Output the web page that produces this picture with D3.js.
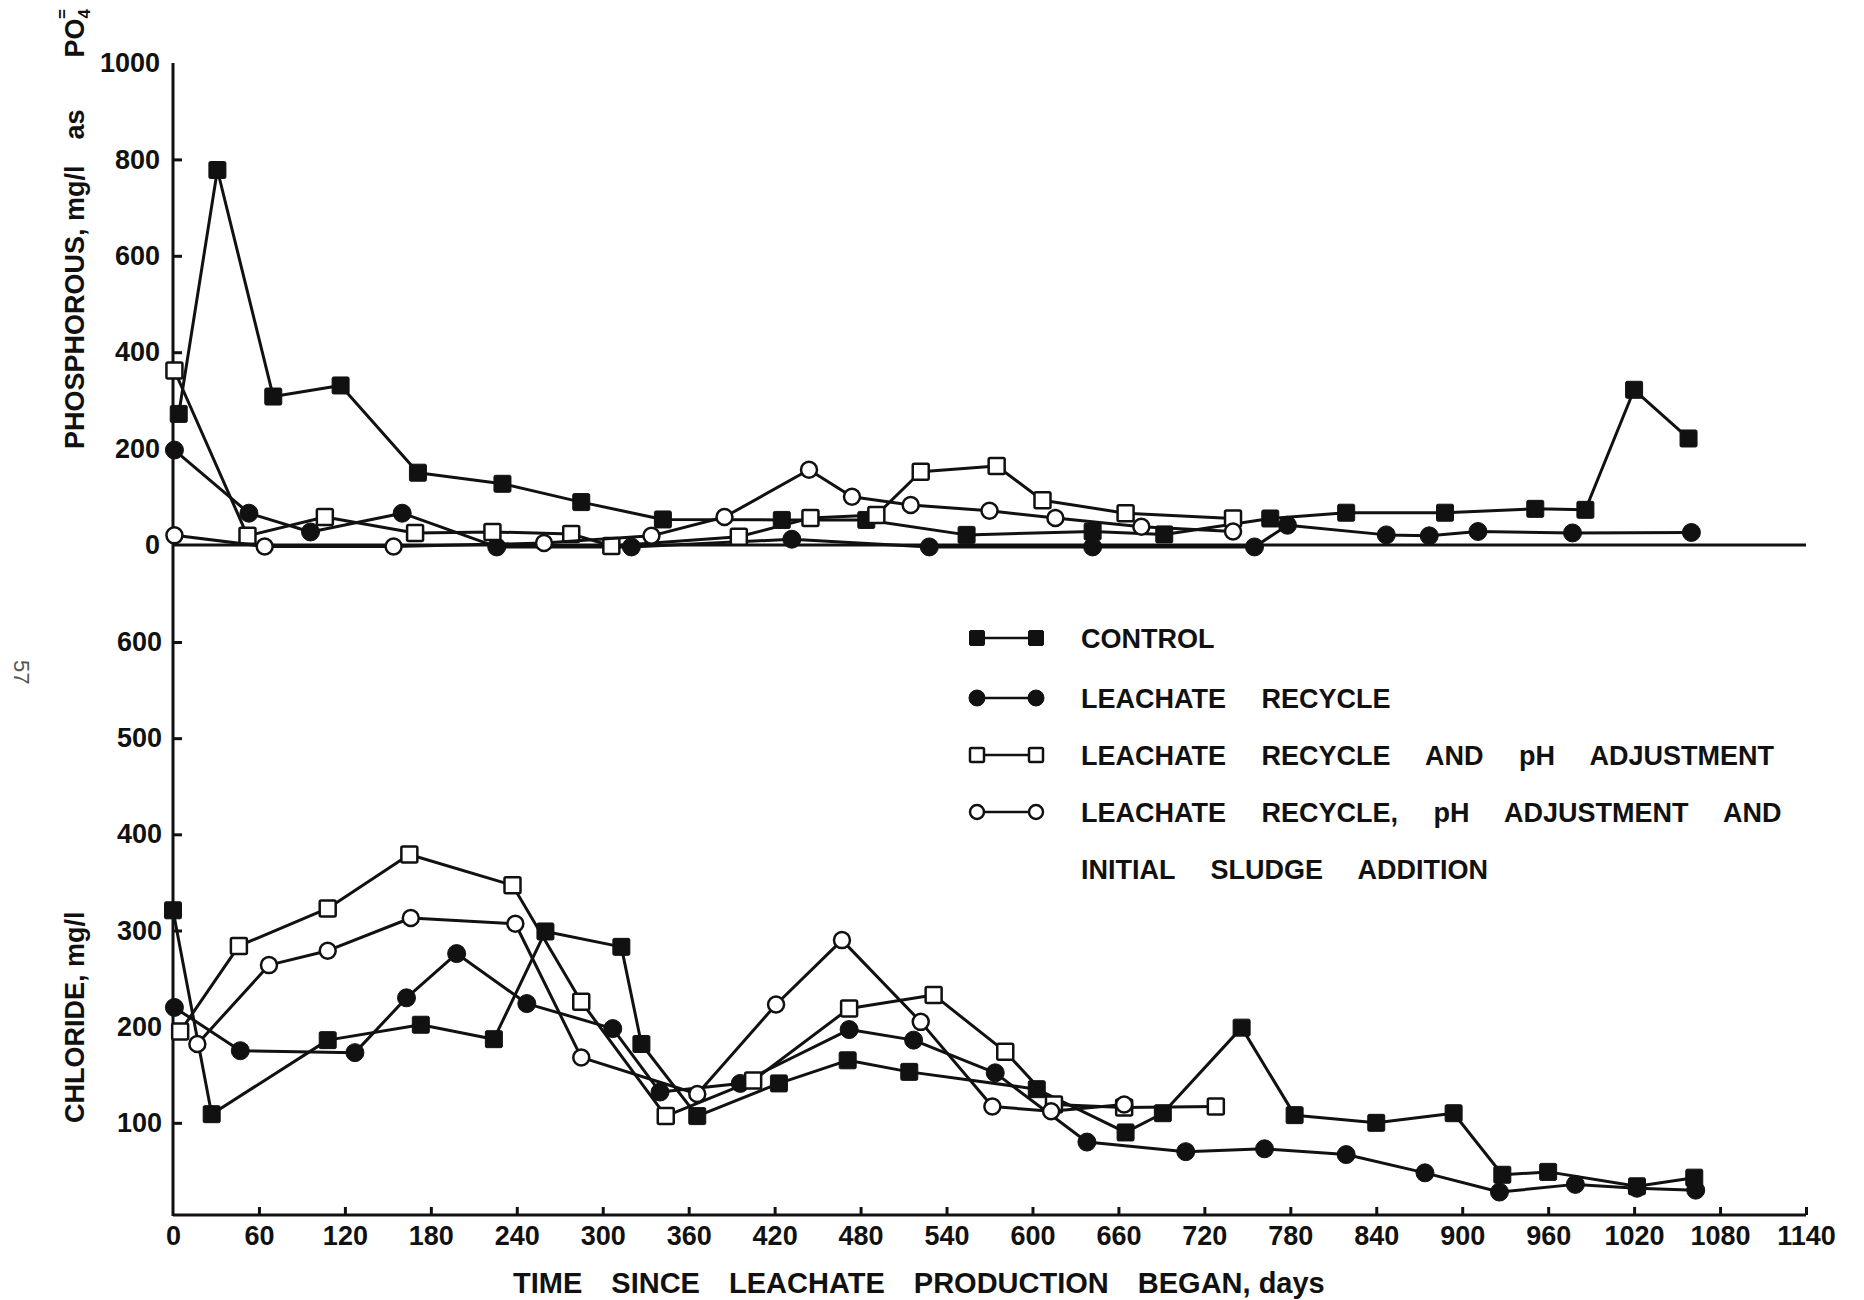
<!DOCTYPE html>
<html>
<head>
<meta charset="utf-8">
<script src="https://cdnjs.cloudflare.com/ajax/libs/d3/7.8.5/d3.min.js"></script>
<style>
  body { margin: 0; background: #fff; }
  text { font-family: "Liberation Sans", Arial, sans-serif; font-weight: bold; fill: #111; }
</style>
</head>
<body>
<div id="chart"></div>
<script>
// ---- phosphorous (top panel), days / mg/l as PO4
var controlPDays = [4, 31, 70, 117, 171, 230, 285, 342, 425, 484, 554, 642, 692, 766, 819, 888, 951, 986, 1020, 1058];
var controlPVals = [272, 778, 308, 331, 150, 127, 89, 53, 52, 52, 21, 28, 22, 55, 67, 67, 75, 73, 322, 221];
var recyclePDays = [1, 53, 96, 160, 226, 320, 432, 528, 642, 755, 778, 847, 877, 911, 977, 1060];
var recyclePVals = [197, 66, 27, 66, -4, -4, 12, -4, -4, -4, 41, 21, 19, 28, 25, 26];
var phAdjPDays = [1, 52, 106, 169, 223, 278, 306, 395, 445, 491, 522, 575, 607, 665, 740];
var phAdjPVals = [362, 19, 58, 25, 27, 23, -2, 17, 56, 62, 152, 164, 93, 66, 55];
var sludgePDays = [1, 64, 154, 259, 334, 385, 444, 474, 515, 570, 616, 676, 740];
var sludgePVals = [20, -3, -3, 4, 19, 58, 156, 100, 83, 71, 56, 38, 28];

// ---- chloride (bottom panel), days / mg/l
var controlCDays = [0, 27, 108, 173, 224, 260, 313, 327, 366, 423, 471, 514, 603, 665, 691, 746, 783, 840, 894, 928, 960, 1022, 1062];
var controlCVals = [321, 109, 186, 202, 187, 299, 283, 182, 107, 141, 165, 153, 135, 90, 110, 199, 108, 100, 110, 46, 49, 34, 43];
var recycleCDays = [1, 47, 127, 163, 198, 247, 307, 340, 396, 472, 517, 574, 638, 707, 762, 819, 874, 926, 979, 1022, 1063];
var recycleCVals = [220, 175, 173, 230, 276, 224, 198, 132, 141, 197, 186, 152, 80, 70, 73, 67, 48, 28, 36, 32, 30];
var phAdjCDays = [5, 46, 108, 165, 237, 285, 344, 405, 472, 531, 581, 615, 664, 728];
var phAdjCVals = [195, 284, 323, 379, 347, 226, 107, 144, 219, 233, 174, 119, 116, 117];
var sludgeCDays = [17, 67, 108, 166, 239, 285, 366, 421, 467, 522, 572, 613, 664];
var sludgeCVals = [182, 264, 279, 313, 307, 168, 130, 223, 290, 205, 117, 112, 119];

var xTicks = [0, 60, 120, 180, 240, 300, 360, 420, 480, 540, 600, 660, 720, 780, 840, 900, 960, 1020, 1080, 1140];
var phosTicks = [0, 200, 400, 600, 800, 1000];
var chlorTicks = [100, 200, 300, 400, 500, 600];

var legendLabels = ['CONTROL', 'LEACHATE RECYCLE', 'LEACHATE RECYCLE AND pH ADJUSTMENT', 'LEACHATE RECYCLE, pH ADJUSTMENT AND', 'INITIAL SLUDGE ADDITION'];
var shapes = ['fsq', 'fci', 'osq', 'oci'];

var ink = '#111';

var svg = d3.select('#chart').append('svg')
  .attr('width', 1864)
  .attr('height', 1300);

svg.append('rect').attr('width', 1864).attr('height', 1300).attr('fill', '#fff');

var x = d3.scaleLinear().domain([0, 1140]).range([173, 1806]);
var yP = d3.scaleLinear().domain([0, 1000]).range([545, 63]);
var yC = d3.scaleLinear().domain([0, 600]).range([1219, 642]);
var xAxisY = 1215;
var fmt = d3.format('d');

// axis lines
svg.append('line')
  .attr('x1', x(0)).attr('x2', x(0))
  .attr('y1', yP(1000)).attr('y2', xAxisY + 1)
  .attr('stroke', ink).attr('stroke-width', 3);
svg.append('line')
  .attr('x1', x(0)).attr('x2', x(1140))
  .attr('y1', yP(0)).attr('y2', yP(0))
  .attr('stroke', ink).attr('stroke-width', 3);
svg.append('line')
  .attr('x1', x(0)).attr('x2', x(1140))
  .attr('y1', xAxisY).attr('y2', xAxisY)
  .attr('stroke', ink).attr('stroke-width', 3);

function styleAxis(g){
  g.select('.domain').remove();
  g.attr('font-size', 27).attr('font-family', null).attr('color', ink);
  g.selectAll('.tick line').attr('stroke-width', 3);
}

var gP = svg.append('g')
  .attr('transform', 'translate(' + x(0) + ',0)')
  .call(d3.axisLeft(yP).tickValues(phosTicks).tickFormat(fmt).tickSize(-9).tickPadding(13));
styleAxis(gP);
gP.selectAll('.tick line').filter(function(d){ return d === 0 || d === 1000; }).remove();

var gC = svg.append('g')
  .attr('transform', 'translate(' + x(0) + ',0)')
  .call(d3.axisLeft(yC).tickValues(chlorTicks).tickFormat(fmt).tickSize(-9).tickPadding(11));
styleAxis(gC);

var gX = svg.append('g')
  .attr('transform', 'translate(0,' + xAxisY + ')')
  .call(d3.axisBottom(x).tickValues(xTicks).tickFormat(fmt).tickSize(-8).tickPadding(11));
styleAxis(gX);
gX.selectAll('.tick line').filter(function(d){ return d === 0; }).remove();

// titles
var yt = svg.append('text')
  .attr('transform', 'translate(84,449) rotate(-90)')
  .attr('font-size', 27);
yt.append('tspan').text('PHOSPHOROUS, mg/l');
yt.append('tspan').attr('dx', 26).text('as');
yt.append('tspan').attr('dx', 52).text('PO');
yt.append('tspan').attr('dy', 6).attr('font-size', 17).text('4');
yt.append('tspan').attr('dx', -10).attr('dy', -22).attr('font-size', 17).text('=');

svg.append('text')
  .attr('transform', 'translate(84,1123) rotate(-90)')
  .attr('font-size', 27)
  .text('CHLORIDE, mg/l');

var xt = svg.append('text')
  .attr('x', 513).attr('y', 1293)
  .attr('font-size', 29)
  .attr('word-spacing', 21)
  .text('TIME SINCE LEACHATE PRODUCTION BEGAN,');
xt.append('tspan').attr('word-spacing', 0).text(' days');

// page number in the margin
svg.append('text')
  .attr('transform', 'translate(14,660) rotate(90)')
  .attr('font-size', 22)
  .style('font-weight', 'normal')
  .style('fill', '#555')
  .text('57');

// markers
function drawMarker(g, cx, cy, shape, s){
  if(shape === 'fsq' || shape === 'osq'){
    var w = shape === 'fsq' ? s + 1 : s;
    g.append('rect')
      .attr('x', cx - w / 2).attr('y', cy - w / 2)
      .attr('width', w).attr('height', w)
      .attr('rx', 1.5)
      .attr('fill', shape === 'fsq' ? ink : '#fff')
      .attr('stroke', ink).attr('stroke-width', shape === 'fsq' ? 1 : 2.5);
  } else {
    g.append('circle')
      .attr('cx', cx).attr('cy', cy)
      .attr('r', shape === 'fci' ? s / 2 + 1 : s / 2)
      .attr('fill', shape === 'fci' ? ink : '#fff')
      .attr('stroke', ink).attr('stroke-width', shape === 'fci' ? 1 : 2.5);
  }
}

function drawSeries(days, vals, yScale, shape){
  var pts = d3.zip(days, vals);
  var line = d3.line()
    .x(function(d){ return x(d[0]); })
    .y(function(d){ return yScale(d[1]); });
  var g = svg.append('g');
  g.append('path')
    .attr('d', line(pts))
    .attr('fill', 'none')
    .attr('stroke', ink)
    .attr('stroke-width', 3)
    .attr('stroke-linejoin', 'round');
  pts.forEach(function(p){
    drawMarker(g, x(p[0]), yScale(p[1]), shape, 16);
  });
}

drawSeries(controlPDays, controlPVals, yP, 'fsq');
drawSeries(recyclePDays, recyclePVals, yP, 'fci');
drawSeries(phAdjPDays, phAdjPVals, yP, 'osq');
drawSeries(sludgePDays, sludgePVals, yP, 'oci');

drawSeries(controlCDays, controlCVals, yC, 'fsq');
drawSeries(recycleCDays, recycleCVals, yC, 'fci');
drawSeries(phAdjCDays, phAdjCVals, yC, 'osq');
drawSeries(sludgeCDays, sludgeCVals, yC, 'oci');

// legend
var legendRows = [638, 698, 755, 812, 869];
var lg = svg.append('g');
legendLabels.forEach(function(lab, i){
  var ry = legendRows[i];
  if(i < shapes.length){
    lg.append('line')
      .attr('x1', 977).attr('x2', 1036)
      .attr('y1', ry).attr('y2', ry)
      .attr('stroke', ink).attr('stroke-width', 2.5);
    drawMarker(lg, 977, ry, shapes[i], 14);
    drawMarker(lg, 1036, ry, shapes[i], 14);
  }
  lg.append('text')
    .attr('x', 1081).attr('y', ry + 10)
    .attr('font-size', 27)
    .attr('word-spacing', 28)
    .text(lab);
});
</script>
</body>
</html>
